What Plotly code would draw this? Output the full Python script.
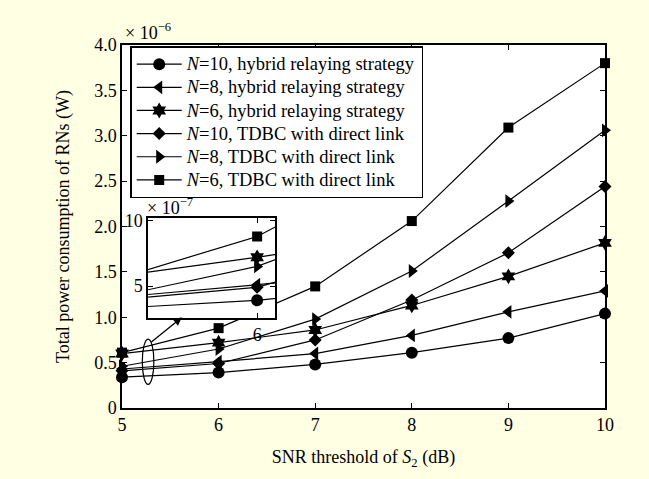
import plotly.graph_objects as go

# SNR threshold of S2 (dB)
snr = [5, 6, 7, 8, 9, 10]

# Total power consumption of RNs, in units of 1e-6 W
n10_hybrid = [0.34, 0.39, 0.48, 0.61, 0.77, 1.04]
n8_hybrid = [0.43, 0.51, 0.60, 0.80, 1.06, 1.29]
n6_hybrid = [0.60, 0.72, 0.86, 1.13, 1.45, 1.82]
n10_tdbc = [0.41, 0.49, 0.75, 1.19, 1.71, 2.44]
n8_tdbc = [0.46, 0.65, 0.98, 1.51, 2.28, 3.06]
n6_tdbc = [0.61, 0.88, 1.34, 2.06, 3.09, 3.80]

names = [
    "<i>N</i>=10, hybrid relaying strategy",
    "<i>N</i>=8, hybrid relaying strategy",
    "<i>N</i>=6, hybrid relaying strategy",
    "<i>N</i>=10, TDBC with direct link",
    "<i>N</i>=8, TDBC with direct link",
    "<i>N</i>=6, TDBC with direct link",
]
series = [n10_hybrid, n8_hybrid, n6_hybrid, n10_tdbc, n8_tdbc, n6_tdbc]
symbols = ["circle", "triangle-left", "hexagram", "diamond", "triangle-right", "square"]
sizes = [12, 12, 12, 10, 12, 10]

y_ticks = [0, 0.5, 1.0, 1.5, 2.0, 2.5, 3.0, 3.5, 4.0]
y_ticktext = ["0", "0.5", "1.0", "1.5", "2.0", "2.5", "3.0", "3.5", "4.0"]
inset_yticks = [5, 10]

FONT = "Times New Roman"
BG = "#FFFFE3"

fig = go.Figure()

for name, ys, sym, sz in zip(names, series, symbols, sizes):
    fig.add_trace(go.Scatter(
        x=snr, y=ys, name='<span style="font-size:18.5px">' + name + "</span>",
        mode="lines+markers",
        line=dict(color="black", width=1.2),
        marker=dict(symbol=sym, size=sz, color="black"),
        cliponaxis=False, xaxis="x", yaxis="y",
    ))

# inset (units of 1e-7 W)
for ys, sym, sz in zip(series, symbols, sizes):
    fig.add_trace(go.Scatter(
        x=snr, y=[v * 10 for v in ys], mode="lines+markers", showlegend=False,
        line=dict(color="black", width=1.2),
        marker=dict(symbol=sym, size=sz, color="black"),
        cliponaxis=True, xaxis="x2", yaxis="y2",
    ))

axis_common = dict(showline=True, linecolor="black", linewidth=1.5, mirror="ticks",
                   ticks="inside", ticklen=5, tickcolor="black", tickwidth=1,
                   showgrid=False, zeroline=False,
                   tickfont=dict(family=FONT, size=18, color="black"))

fig.update_layout(
    width=649, height=479,
    paper_bgcolor=BG, plot_bgcolor="white",
    margin=dict(l=122, r=44, t=45, b=71),
    font=dict(family=FONT, size=18, color="black"),
    xaxis=dict(range=[5, 10], tickvals=snr, domain=[0, 1],
               title=dict(text="SNR threshold of <i>S</i><sub>2</sub> (dB)", standoff=16,
                          font=dict(family=FONT, size=18)),
               **axis_common),
    yaxis=dict(range=[0, 4], tickvals=y_ticks, ticktext=y_ticktext, domain=[0, 1],
               title=dict(text="Total power consumption of RNs (W)", standoff=20,
                          font=dict(family=FONT, size=18)),
               **axis_common),
    xaxis2=dict(range=[5.06, 6.155], tickvals=[6], anchor="y2",
                domain=[0.054, 0.317], **axis_common),
    yaxis2=dict(range=[2.55, 10.2], tickvals=inset_yticks, anchor="x2",
                domain=[0.248, 0.523], **axis_common),
    legend=dict(x=0.017, y=0.997, xanchor="left", yanchor="top",
                bgcolor="white", bordercolor="black", borderwidth=1.5,
                font=dict(family=FONT, size=15.5, color="black"),
                itemwidth=45, tracegroupgap=0),
    showlegend=True,
)

fig.add_annotation(xref="paper", yref="paper", x=0.0, y=1.0, xanchor="left", yanchor="bottom",
                   text="× 10<sup>−6</sup>", showarrow=False, xshift=1,
                   font=dict(family=FONT, size=18))
fig.add_annotation(xref="paper", yref="paper", x=0.054, y=0.523, xanchor="left", yanchor="bottom",
                   text="× 10<sup>−7</sup>", showarrow=False, xshift=-3, yshift=-2,
                   font=dict(family=FONT, size=18))

# ellipse marking the zoomed region and arrow to the inset
fig.add_shape(type="circle", xref="x", yref="y", x0=5.21, x1=5.33, y0=0.26, y1=0.76,
              line=dict(color="black", width=1.2), layer="above")
fig.add_annotation(xref="x", yref="y", x=5.62, y=1.0, ax=-32, ay=26, axref="pixel", ayref="pixel",
                   showarrow=True, arrowhead=2, arrowsize=1.3, arrowwidth=1.3,
                   arrowcolor="black", text="")

fig.write_html("out.html")
